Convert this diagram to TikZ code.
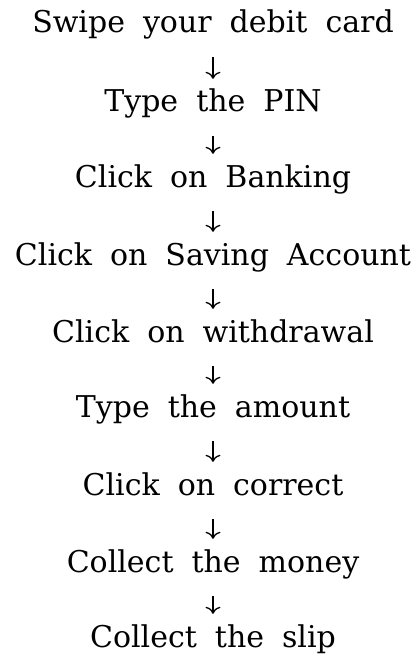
\documentclass[tikz,border=0pt]{standalone}
\usepackage{fontspec}
\setmainfont{DejaVu Serif}
\usetikzlibrary{arrows.meta}
\begin{document}
\begin{tikzpicture}[x=1pt,y=-1pt,
  stepbox/.style={anchor=base,inner sep=0pt,text height=22pt,text depth=7pt,
    font=\fontsize{30}{36}\selectfont,
    execute at begin node={\spaceskip=18pt\relax}},
  flow/.style={-{To[length=7pt,width=15pt]},line width=1.3pt,shorten <=17pt,shorten >=11pt}]
\useasboundingbox (0,0) rectangle (415,655);
\node[stepbox] (s1) at (213,33) {Swipe your debit card};
\node[stepbox] (s2) at (213,112) {Type the PIN};
\node[stepbox] (s3) at (213,187) {Click on Banking};
\node[stepbox] (s4) at (213,265) {Click on Saving Account};
\node[stepbox] (s5) at (213,342) {Click on withdrawal};
\node[stepbox] (s6) at (213,417) {Type the amount};
\node[stepbox] (s7) at (213,495) {Click on correct};
\node[stepbox] (s8) at (213,572) {Collect the money};
\node[stepbox] (s9) at (213,647) {Collect the slip};
\foreach \a/\b in {s1/s2,s2/s3,s3/s4,s4/s5,s5/s6,s6/s7,s7/s8,s8/s9}
  \draw[flow] (\a) -- (\b);
\end{tikzpicture}
\end{document}
